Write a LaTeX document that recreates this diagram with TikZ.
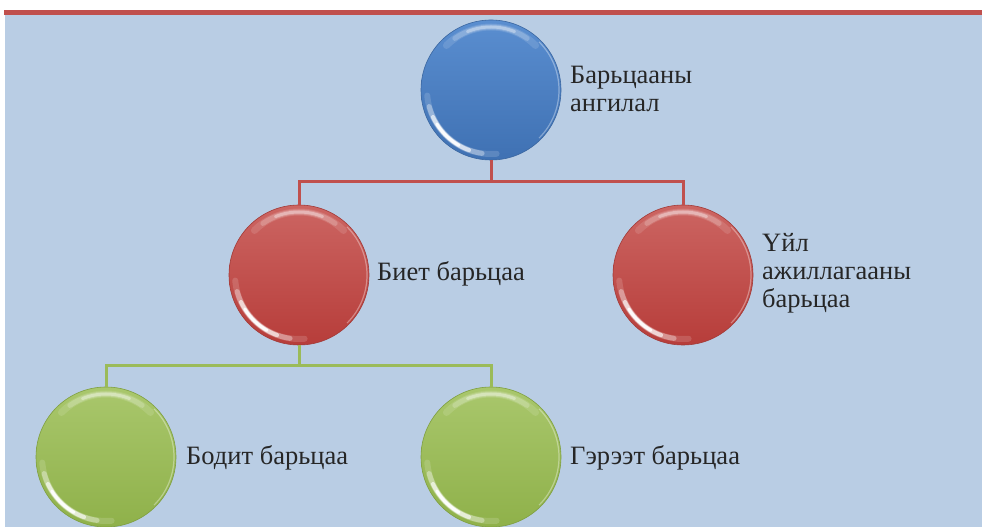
\documentclass[tikz,border=0pt]{standalone}
\usepackage{fontspec}
\setmainfont{Liberation Serif}
\definecolor{panel}{HTML}{B9CDE4}
\definecolor{barred}{HTML}{C0504D}
\definecolor{txt}{HTML}{262626}
\definecolor{blueT}{HTML}{5A8ED0}
\definecolor{blueB}{HTML}{3F71B3}
\definecolor{blueE}{HTML}{3A66A0}
\definecolor{redT}{HTML}{CC6562}
\definecolor{redB}{HTML}{B73D3A}
\definecolor{redE}{HTML}{A23A37}
\definecolor{grnT}{HTML}{A9C76C}
\definecolor{grnB}{HTML}{8FB14A}
\definecolor{grnE}{HTML}{7F9F40}
\definecolor{lnred}{HTML}{C0504D}
\definecolor{lngrn}{HTML}{9BBB59}
\tikzset{
  orb/.style n args={3}{circle, minimum size=140pt, inner sep=0pt,
    top color=#1, bottom color=#2, draw=#3, line width=0.6pt},
  lbl/.style={font=\fontsize{26.5}{28}\selectfont, text=txt, align=left,
    inner sep=0pt, anchor=base west},
  redlink/.style={draw=lnred, line width=3pt},
  grnlink/.style={draw=lngrn, line width=3pt},
}
% glossy rim highlights of a sphere node
\newcommand\orbshine[1]{%
  \foreach \a/\b/\w/\o in {45/135/7/0.12, 55/125/5/0.2, 68/112/3/0.35}{%
    \draw[white, line width=\w pt, opacity=\o, line cap=round]
      ([shift={(\a:63)}]#1.center) arc (\a:\b:63);}
  \foreach \a/\b/\w/\o in {185/275/6/0.15, 195/262/5/0.35, 205/250/4/0.6, 212/240/3/0.9}{%
    \draw[white, line width=\w pt, opacity=\o, line cap=round]
      ([shift={(\a:64)}]#1.center) arc (\a:\b:64);}
  \draw[white, line width=1.2pt, opacity=0.35]
      ([shift={(-45:68)}]#1.center) arc (-45:45:68);
}
\begin{document}
\begin{tikzpicture}[x=1pt,y=1pt]
  \useasboundingbox (0,0) rectangle (982,527);
  \fill[white] (0,0) rectangle (982,527);
  \fill[panel] (5,0) rectangle (982,512);
  \fill[barred] (4,512) rectangle (982,517);

  % connector junctions
  \coordinate (j1) at (491,345);
  \coordinate (j2) at (299,161);

  % spheres
  \node[orb={blueT}{blueB}{blueE}] (root) at (491,437) {};
  \node[orb={redT}{redB}{redE}] (pledge) at (299,252) {};
  \node[orb={redT}{redB}{redE}] (work) at (683,252) {};
  \node[orb={grnT}{grnB}{grnE}] (real) at (106,70) {};
  \node[orb={grnT}{grnB}{grnE}] (contract) at (491,70) {};

  % connectors
  \draw[redlink] (root.south) -- (j1);
  \draw[redlink] (pledge.north) |- (j1) -| (work.north);
  \draw[grnlink] (pledge.south) -- (j2);
  \draw[grnlink] (real.north) |- (j2) -| (contract.north);

  \orbshine{root}
  \orbshine{pledge}
  \orbshine{work}
  \orbshine{real}
  \orbshine{contract}

  % labels
  \node[lbl] (t1) at (570,415) {Барьцааны\\ангилал};
  \node[lbl] (t2) at (377,246) {Биет барьцаа};
  \node[lbl] (t3) at (762,219) {Үйл\\ажиллагааны\\барьцаа};
  \node[lbl] (t4) at (186,62) {Бодит барьцаа};
  \node[lbl] (t5) at (570,62) {Гэрээт барьцаа};
\end{tikzpicture}
\end{document}
